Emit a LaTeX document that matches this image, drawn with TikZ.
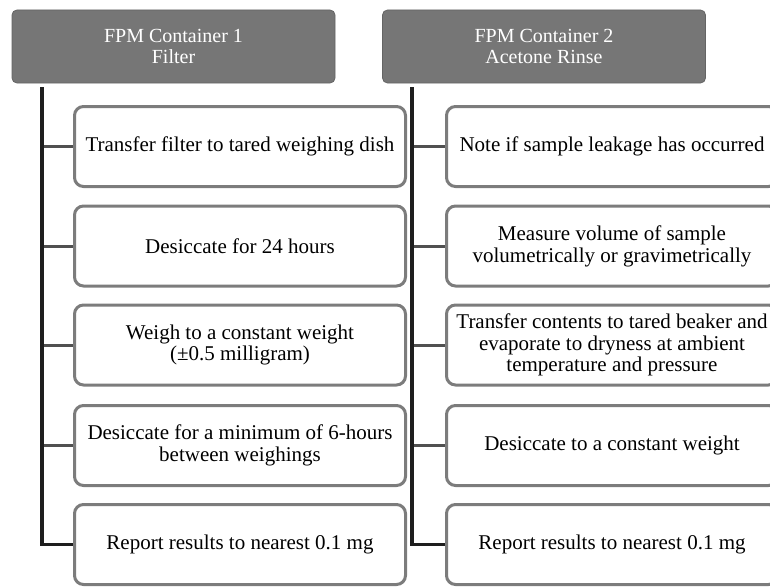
\documentclass[tikz,border=0pt]{standalone}
\usepackage{fontspec}
\setmainfont{Liberation Serif}
\begin{document}
\begin{tikzpicture}[x=1pt,y=-1pt,
  hdr/.style={draw=hdrgray!85!black, line width=0.8pt, fill=hdrgray, rounded corners=5pt,
    minimum width=323pt, minimum height=73pt, text=white, align=center,
    font=\fontsize{20}{21.5}\selectfont, inner sep=0pt},
  stepbox/.style={draw=boxgray, line width=3pt, fill=white, rounded corners=9pt,
    minimum width=331pt, minimum height=80pt, align=center,
    font=\fontsize{21}{21.8}\selectfont, inner sep=1pt},
  spine/.style={draw=spinecol, line width=3.5pt},
  tick/.style={draw=tickcol, line width=3pt}]
\definecolor{hdrgray}{HTML}{767676}
\definecolor{boxgray}{HTML}{7C7C7C}
\definecolor{spinecol}{HTML}{1E1E1E}
\definecolor{tickcol}{HTML}{505050}
\useasboundingbox (0,0) rectangle (770,586);
\clip (0,0) rectangle (770,586);
% headers
\node[hdr] (h1) at (173.5,46.5) {FPM Container 1\\Filter};
\node[hdr] (h2) at (544,46.5) {FPM Container 2\\Acetone Rinse};
% left column boxes
\node[stepbox] (a1) at (240,146.5) {Transfer filter to tared weighing dish};
\node[stepbox] (a2) at (240,246) {Desiccate for 24 hours};
\node[stepbox] (a3) at (240,345) {Weigh to a constant weight\\(±0.5 milligram)};
\node[stepbox] (a4) at (240,445.5) {Desiccate for a minimum of 6-hours\\between weighings};
\node[stepbox] (a5) at (240,544.5) {Report results to nearest 0.1 mg};
% right column boxes
\node[stepbox] (b1) at (612,146.5) {Note if sample leakage has occurred};
\node[stepbox] (b2) at (612,246) {Measure volume of sample\\volumetrically or gravimetrically};
\node[stepbox] (b3) at (612,345) {Transfer contents to tared beaker and\\evaporate to dryness at ambient\\temperature and pressure};
\node[stepbox] (b4) at (612,445.5) {Desiccate to a constant weight};
\node[stepbox] (b5) at (612,544.5) {Report results to nearest 0.1 mg};
% spines
\coordinate (s1top) at (42,87);
\coordinate (s2top) at (412,87);
\foreach \i in {1,...,4} {
  \draw[tick] (42,0 |- a\i.west) -- (a\i.west);
  \draw[tick] (412,0 |- b\i.west) -- (b\i.west);
}
\draw[spine, line join=miter] (s1top) -- (s1top |- a5.west) -- (a5.west);
\draw[spine, line join=miter] (s2top) -- (s2top |- b5.west) -- (b5.west);
\end{tikzpicture}
\end{document}
